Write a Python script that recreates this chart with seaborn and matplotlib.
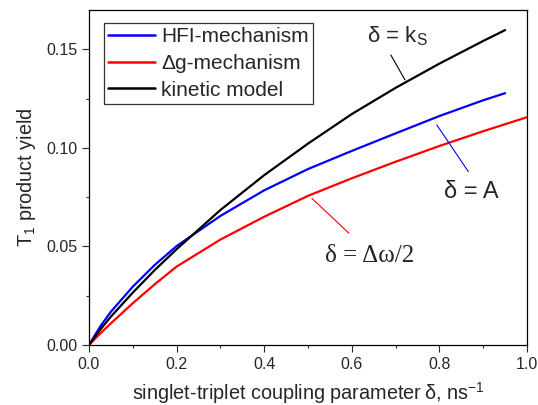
import numpy as np
import pandas as pd
import matplotlib
matplotlib.use("Agg")
import matplotlib.pyplot as plt
from matplotlib.ticker import MultipleLocator, FormatStrFormatter
import seaborn as sns

# Singlet-triplet coupling parameter (ns^-1) and T1 product yields
delta_kin = [0.0, 0.025, 0.05, 0.1, 0.15, 0.2, 0.3, 0.4, 0.5, 0.6, 0.7, 0.8, 0.9, 0.95]
yield_kin = [0.0, 0.0076, 0.0144, 0.0266, 0.0380, 0.0486, 0.0685, 0.0862, 0.1022,
             0.1172, 0.1305, 0.1428, 0.1543, 0.1598]

delta_hfi = [0.0, 0.025, 0.05, 0.1, 0.15, 0.2, 0.3, 0.4, 0.5, 0.6, 0.7, 0.8, 0.9, 0.95]
yield_hfi = [0.0, 0.0092, 0.0169, 0.0296, 0.0406, 0.0502, 0.0655, 0.0785, 0.0893,
             0.0985, 0.1074, 0.1162, 0.1242, 0.1278]

delta_dg = [0.0, 0.025, 0.05, 0.1, 0.15, 0.2, 0.3, 0.4, 0.5, 0.6, 0.7, 0.8, 0.9, 1.0]
yield_dg = [0.0, 0.0057, 0.0110, 0.0212, 0.0308, 0.0398, 0.0535, 0.0651, 0.0757,
            0.0846, 0.0930, 0.1010, 0.1085, 0.1156]

series_names = ["HFI-mechanism", "\u0394g-mechanism", "kinetic model"]
series_colors = ["#0000ff", "#ff0000", "#000000"]

df = pd.concat([
    pd.DataFrame({"delta": delta_hfi, "yield": yield_hfi, "model": series_names[0]}),
    pd.DataFrame({"delta": delta_dg, "yield": yield_dg, "model": series_names[1]}),
    pd.DataFrame({"delta": delta_kin, "yield": yield_kin, "model": series_names[2]}),
], ignore_index=True)

sns.set_style("ticks")
plt.rcParams["font.family"] = ["Liberation Sans", "DejaVu Sans"]
plt.rcParams["mathtext.fontset"] = "custom"
plt.rcParams["mathtext.rm"] = "Liberation Sans"
plt.rcParams["mathtext.it"] = "Liberation Sans:italic"

fig = plt.figure(figsize=(5.38, 4.05), dpi=100)
ax = fig.add_axes([0.1654, 0.1481, 0.8142, 0.8272])

sns.lineplot(data=df, x="delta", y="yield", hue="model", hue_order=series_names,
             palette=dict(zip(series_names, series_colors)), linewidth=1.6,
             sort=False, estimator=None, ax=ax)

ax.set_xlim(0, 1.0)
ax.set_ylim(0, 0.17)
ax.xaxis.set_major_locator(MultipleLocator(0.2))
ax.xaxis.set_minor_locator(MultipleLocator(0.1))
ax.yaxis.set_major_locator(MultipleLocator(0.05))
ax.yaxis.set_minor_locator(MultipleLocator(0.025))
ax.xaxis.set_major_formatter(FormatStrFormatter("%.1f"))
ax.yaxis.set_major_formatter(FormatStrFormatter("%.2f"))
ax.tick_params(which="major", direction="out", length=5, width=0.8, labelsize=11.5,
               top=False, right=False)
ax.tick_params(which="minor", direction="out", length=2.5, width=0.8,
               top=False, right=False)
for s in ax.spines.values():
    s.set_linewidth(0.9)
    s.set_color("black")

ax.set_xlabel("singlet-triplet coupling parameter\u2009\u03b4, ns$^{-1}$", fontsize=14.3, labelpad=6)
ax.set_ylabel("T$_{1}$ product yield", fontsize=14.3, labelpad=6)

leg = ax.legend(loc="upper left", bbox_to_anchor=(0.034, 0.962), frameon=True,
                fancybox=False, edgecolor="black", fontsize=15, handlelength=2.25,
                borderpad=0.2, labelspacing=0.38, handletextpad=0.3, borderaxespad=0)
leg.get_frame().set_linewidth(0.9)
for line in leg.get_lines():
    line.set_linewidth(1.8)

# Curve annotations with leader lines
ax.plot([0.689, 0.7215], [0.1472, 0.1345], color="black", linewidth=0.8)
ax.plot([0.794, 0.866], [0.1117, 0.0880], color="blue", linewidth=0.8)
ax.plot([0.509, 0.5936], [0.0744, 0.0567], color="red", linewidth=0.8)

ax.text(0.703, 0.1565, "\u03b4 = k$_\\mathregular{S}$", fontsize=16, ha="center", va="center")
ax.text(0.872, 0.0777, "\u03b4 = A", fontsize=17, ha="center", va="center")
ax.text(0.6416, 0.0453, "\u03b4 = \u0394\u03c9/2", fontsize=18, ha="center", va="center",
        family=["Liberation Serif", "DejaVu Serif"])

fig.savefig("out.png", dpi=100)
